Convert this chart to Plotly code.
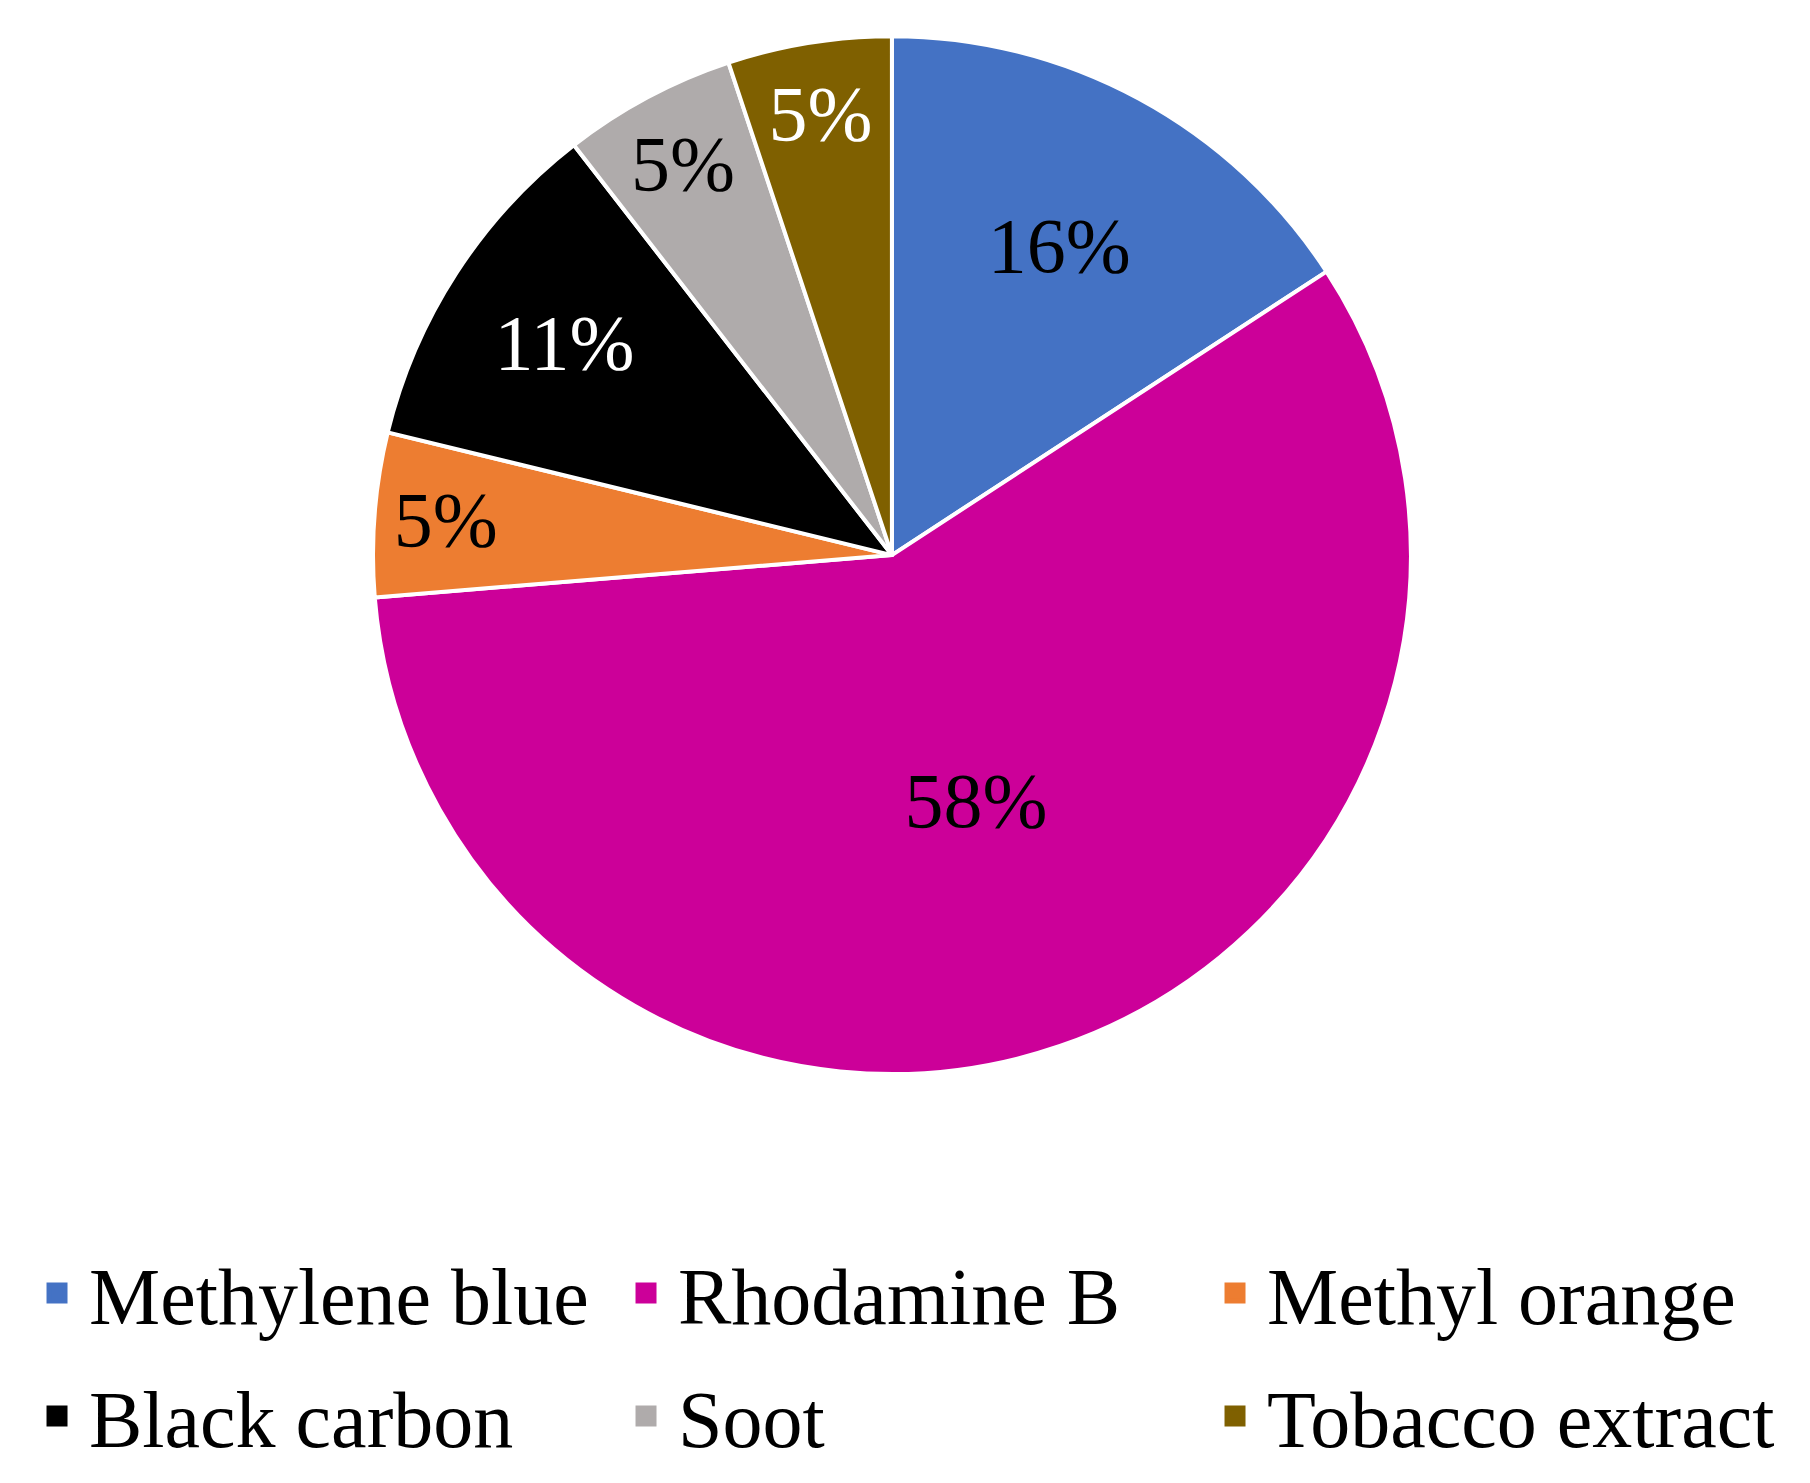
import plotly.graph_objects as go

labels = ["Methylene blue", "Rhodamine B", "Methyl orange", "Black carbon", "Soot", "Tobacco extract"]
values = [15.8, 57.9, 5.1, 10.7, 5.4, 5.1]
colors = ["#4472C4", "#CC0099", "#ED7D31", "#000000", "#AFABAB", "#7F6000"]
text_colors = ["#000000", "#000000", "#000000", "#FFFFFF", "#000000", "#FFFFFF"]
legend_rows = ["legend", "legend", "legend", "legend2", "legend2", "legend2"]

FONT = "Liberation Serif"

fig = go.Figure()
fig.add_trace(go.Pie(
    labels=labels,
    values=values,
    sort=False,
    direction="clockwise",
    rotation=0,
    marker=dict(colors=colors, line=dict(color="white", width=4)),
    texttemplate="%{percent:.0%}",
    textposition="inside",
    insidetextorientation="horizontal",
    textfont=dict(family=FONT, size=78, color=text_colors),
    domain=dict(x=[0.2016, 0.7751], y=[0.2812, 0.981]),
    showlegend=False,
    hoverinfo="label+percent",
))

# legend entries (square swatches) for each category
for name, col, lg in zip(labels, colors, legend_rows):
    fig.add_trace(go.Scatter(
        x=[None], y=[None],
        mode="markers",
        name=name,
        marker=dict(symbol="square", size=16, color=col, line=dict(color=col, width=5)),
        legend=lg,
        showlegend=True,
        hoverinfo="skip",
    ))

legend_common = dict(
    orientation="h",
    xanchor="left",
    yanchor="middle",
    font=dict(family=FONT, size=80, color="black"),
    entrywidth=520,
    entrywidthmode="pixels",
    itemwidth=54,
    traceorder="normal",
    bgcolor="rgba(0,0,0,0)",
)

fig.update_layout(
    width=1810,
    height=1483,
    margin=dict(l=0, r=0, t=0, b=0, autoexpand=False),
    paper_bgcolor="white",
    plot_bgcolor="white",
    font=dict(family=FONT, color="black"),
    uniformtext=dict(minsize=78, mode="show"),
    xaxis=dict(visible=False, domain=[0, 0.01]),
    yaxis=dict(visible=False, domain=[0, 0.01]),
    legend=dict(x=0.0094, y=0.1335, **legend_common),
    legend2=dict(x=0.0094, y=0.0506, **legend_common),
)

fig.write_html("out.html")
